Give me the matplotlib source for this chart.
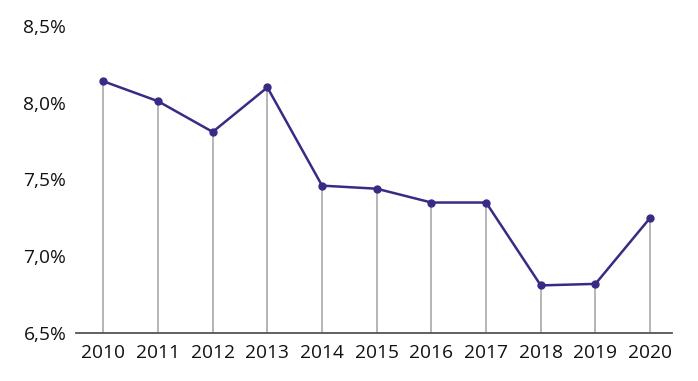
import matplotlib
matplotlib.use("Agg")
import matplotlib.pyplot as plt

# data (percent)
years = [2010, 2011, 2012, 2013, 2014, 2015, 2016, 2017, 2018, 2019, 2020]
rate = [8.14, 8.01, 7.81, 8.10, 7.46, 7.44, 7.35, 7.35, 6.81, 6.82, 7.25]
y_ticks = [6.5, 7.0, 7.5, 8.0, 8.5]
y_labels = ["6,5%", "7,0%", "7,5%", "8,0%", "8,5%"]

plt.rcParams['font.family'] = ['Open Sans', 'DejaVu Sans']

fig = plt.figure(figsize=(6.98, 3.81), dpi=100)
ax = fig.add_axes([76 / 698, 48 / 381, 596 / 698, 307 / 381])

# grey drop lines from the baseline to each point
ax.vlines(years, 6.5, rate, color='#b0b0b0', linewidth=1.3, zorder=1)
ax.plot(years, rate, color='#3b2a85', linewidth=1.8, marker='o',
        markersize=5, zorder=3)

ax.set_xlim(2009.5, 2020.4)
ax.set_ylim(6.5, 8.5)
ax.set_xticks(years)
ax.set_xticklabels([str(y) for y in years])
ax.set_yticks(y_ticks)
ax.set_yticklabels(y_labels)
ax.tick_params(axis='both', length=0, labelsize=13.8, colors='#111111')
ax.tick_params(axis='x', pad=8)
ax.tick_params(axis='y', pad=7)

for side in ['top', 'right', 'left']:
    ax.spines[side].set_visible(False)
ax.spines['bottom'].set_color('#555555')
ax.spines['bottom'].set_linewidth(1.3)
ax.patch.set_alpha(0)

fig.savefig("out.png", dpi=100)
